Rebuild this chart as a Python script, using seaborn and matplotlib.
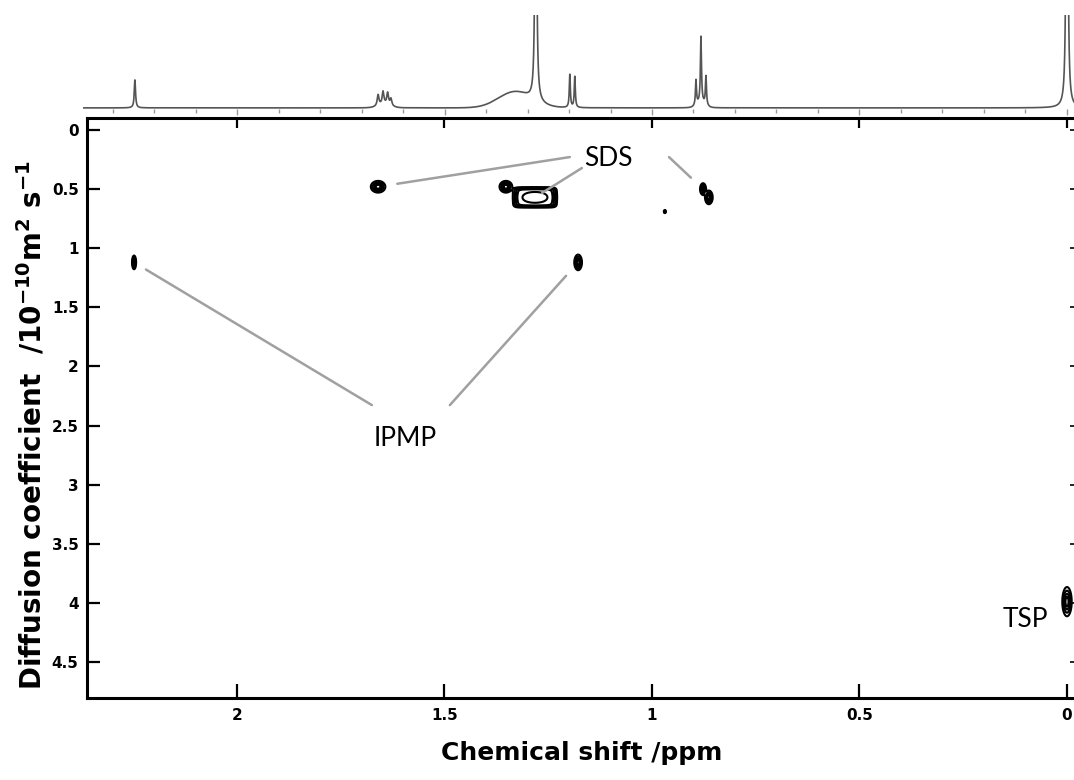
import numpy as np
import pandas as pd
import matplotlib
matplotlib.use("Agg")
import matplotlib.pyplot as plt
import seaborn as sns

# ---------------- data ----------------
# 1H spectrum: sharp lines (ppm, height, half-width)
line_ppm = [2.246, 1.660, 1.648, 1.637, 1.629, 1.280, 1.198, 1.186,
            0.894, 0.882, 0.870, 0.000]
line_height = [28, 11, 13, 12, 7, 600, 33, 31, 25, 66, 29, 1200]
line_hwhm = [0.0018, 0.0025, 0.0025, 0.0025, 0.0025, 0.0015, 0.0015, 0.0015,
             0.0015, 0.0015, 0.0015, 0.0012]
# broad underlying humps (ppm, height, width)
hump_ppm = [1.645, 1.330, 0.882]
hump_height = [3, 16, 5]
hump_sigma = [0.015, 0.040, 0.010]

# DOSY cross peaks: chemical shift, diffusion coefficient, amplitude, widths
dosy_ppm = [2.248, 1.660, 1.352, 1.282, 1.282, 1.178, 0.877, 0.863, 0.969, 0.000]
dosy_D = [1.12, 0.48, 0.48, 0.57, 0.57, 1.12, 0.50, 0.57, 0.69, 3.99]
dosy_amp = [1.0, 1.0, 1.0, 1.0, 1.0, 1.0, 1.0, 1.0, 1.0, 1.0]
dosy_sig_ppm = [0.0024, 0.0085, 0.0075, 0.044, 0.020, 0.0045, 0.0035, 0.0045, 0.0012, 0.0055]
dosy_sig_D = [0.028, 0.024, 0.024, 0.072, 0.030, 0.032, 0.024, 0.028, 0.006, 0.060]
dosy_power = [2, 2, 2, 8, 2, 2, 2, 2, 2, 2]

x_ticks = [2, 1.5, 1, 0.5, 0]
x_ticklabels = ["2", "1.5", "1", "0.5", "0"]
y_ticks = [0, 0.5, 1, 1.5, 2, 2.5, 3, 3.5, 4, 4.5]
y_ticklabels = ["0", "0.5", "1", "1.5", "2", "2.5", "3", "3.5", "4", "4.5"]

# ---------------- figure layout ----------------
sns.set_theme(style="white")
plt.rcParams["font.family"] = ["DejaVu Sans"]
plt.rcParams["text.color"] = "black"
plt.rcParams["axes.labelcolor"] = "black"
plt.rcParams["xtick.color"] = "black"
plt.rcParams["ytick.color"] = "black"
plt.rcParams["mathtext.default"] = "bf"

W, H = 1074, 780
fig = plt.figure(figsize=(W / 100, H / 100), dpi=100)


def box(left, top, right, bottom):
    return [left / W, 1 - bottom / H, (right - left) / W, (bottom - top) / H]


ax = fig.add_axes(box(87, 118, 1076, 698))
ax_spec = fig.add_axes(box(83, 15, 1076, 108.5))

tick_font = dict(family=["Liberation Sans Narrow", "DejaVu Sans"],
                 weight="bold", size=11, color="black")

# ---------------- 1D spectrum ----------------
ppm = np.arange(-0.03, 2.38, 0.0002)
spec = np.zeros_like(ppm)
for c, h, w in zip(line_ppm, line_height, line_hwhm):
    spec += h * w ** 2 / ((ppm - c) ** 2 + w ** 2)
for c, h, s in zip(hump_ppm, hump_height, hump_sigma):
    spec += h * np.exp(-0.5 * ((ppm - c) / s) ** 2)
spec_df = pd.DataFrame({"ppm": ppm, "intensity": spec})

sns.lineplot(data=spec_df, x="ppm", y="intensity", ax=ax_spec,
             color="#555555", lw=1.2, sort=False, estimator=None)
ax_spec.set_xlim(2.3711, -0.0217)
ax_spec.set_ylim(-0.6, 93)
for s in ax_spec.spines.values():
    s.set_visible(False)
ax_spec.set_xticks(np.arange(0, 2.4, 0.5))
ax_spec.set_xticks(np.arange(0, 2.4, 0.1), minor=True)
ax_spec.tick_params(axis="x", which="both", direction="out", color="#9a9a9a",
                    labelbottom=False, bottom=True, width=1)
ax_spec.tick_params(axis="x", which="major", length=4)
ax_spec.tick_params(axis="x", which="minor", length=3)
ax_spec.set_yticks([])
ax_spec.set_xlabel("")
ax_spec.set_ylabel("")
ax_spec.patch.set_alpha(0)

# ---------------- DOSY contours ----------------
gx = np.arange(-0.03, 2.36, 0.0004)
gy = np.arange(0.0, 4.6, 0.004)
X, Y = np.meshgrid(gx, gy)
Z = np.zeros_like(X)
for c, d, a, sx, sy, p in zip(dosy_ppm, dosy_D, dosy_amp, dosy_sig_ppm,
                              dosy_sig_D, dosy_power):
    ix = (gx > c - 6 * sx) & (gx < c + 6 * sx)
    iy = (gy > d - 6 * sy) & (gy < d + 6 * sy)
    sub = np.ix_(iy, ix)
    u = np.abs((X[sub] - c) / sx)
    v = np.abs((Y[sub] - d) / sy)
    Z[sub] += a * np.exp(-0.5 * (u ** p + v ** p))

ax.contour(X, Y, Z, levels=[0.12, 0.3, 0.55, 0.8, 1.3],
           colors="black", linewidths=1.5)

ax.set_xlim(2.3614, -0.0217)
ax.set_ylim(4.805, -0.1015)
ax.set_facecolor("white")
for s in ax.spines.values():
    s.set_visible(True)
    s.set_color("black")
    s.set_linewidth(2.2)

ax.set_xticks(x_ticks)
ax.set_xticklabels(x_ticklabels, fontdict=tick_font)
ax.set_yticks(y_ticks)
ax.set_yticklabels(y_ticklabels, fontdict=tick_font)
ax.tick_params(axis="x", which="major", direction="in", length=10, width=1.6,
               color="black", top=True, bottom=True, pad=7)
ax.tick_params(axis="y", which="major", direction="in", length=9, width=1.6,
               color="black", left=True, right=True, pad=6)
for t in ax.yaxis.get_major_ticks():
    t.tick2line.set_markersize(4)
    t.tick2line.set_markeredgewidth(1.2)
for t in ax.xaxis.get_major_ticks():
    t.tick2line.set_markersize(7)

ax.set_xlabel("Chemical shift /ppm", fontsize=18, fontweight="bold",
              labelpad=13, color="black")
ax.set_ylabel(r"Diffusion coefficient  /10$^{-10}$m$^{2}$ s$^{-1}$",
              fontsize=20, fontweight="bold", color="black")
ax.yaxis.set_label_coords(-0.040, 0.47)

# ---------------- labels and leader lines ----------------
label_font = dict(family=["Lato", "DejaVu Sans"], size=19, color="black")
lead = dict(arrowstyle="-", color="#a0a0a0", lw=1.8, shrinkA=0)

sds_xy = (1.104, 0.237)
ax.text(*sds_xy, "SDS", ha="center", va="center", **label_font)
# (peak index, start offset from label, shrink at peak end)
for i, (dx, dy), sb in [(1, (0.094, -0.008), 14),
                        (3, (0.065, 0.085), 6),
                        (6, (-0.145, -0.008), 12)]:
    ax.annotate("", xy=(dosy_ppm[i], dosy_D[i]),
                xytext=(sds_xy[0] + dx, sds_xy[1] + dy),
                arrowprops=dict(lead, shrinkB=sb))

ipmp_xy = (1.595, 2.606)
ax.text(*ipmp_xy, "IPMP", ha="center", va="center", **label_font)
for i, (dx, dy), sb in [(0, (0.080, -0.279), 10),
                        (5, (-0.108, -0.279), 13)]:
    ax.annotate("", xy=(dosy_ppm[i], dosy_D[i]),
                xytext=(ipmp_xy[0] + dx, ipmp_xy[1] + dy),
                arrowprops=dict(lead, shrinkB=sb))

ax.text(0.101, 4.145, "TSP", ha="center", va="center", **label_font)

fig.savefig("out.png", dpi=100)
